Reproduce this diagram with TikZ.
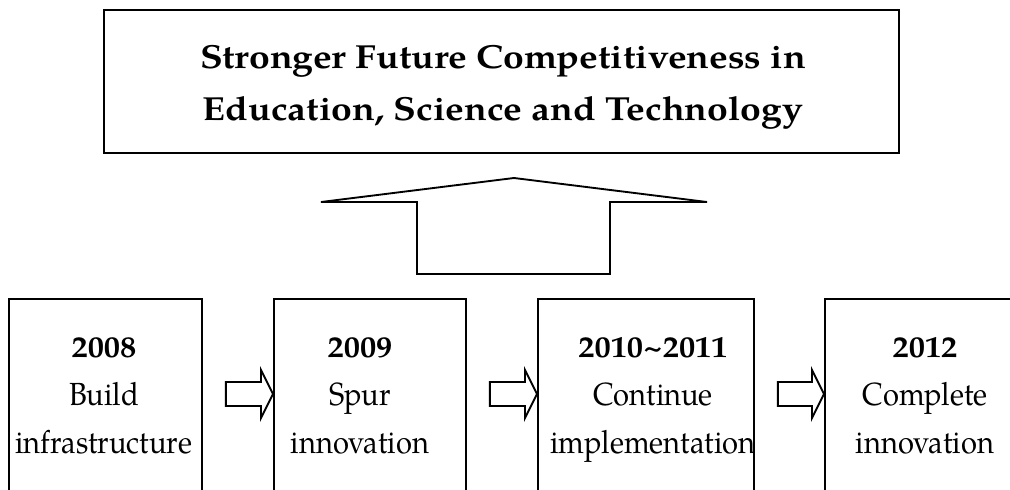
\documentclass[tikz,border=0pt]{standalone}
\usepackage{fontspec}
\setmainfont{TeX Gyre Pagella}
\newfontfamily\largo{TeX Gyre Pagella}[FakeStretch=1.12]
\newfontfamily\medio{TeX Gyre Pagella}[FakeStretch=1.08]
\newfontfamily\stretto{TeX Gyre Pagella}[FakeStretch=0.91]
\usetikzlibrary{positioning, calc}

\newcommand{\passo}[2]{%
    \path (#1.north east) ++(23,96) coordinate (s-#1);
    \path (#2.north west) ++(0,96) coordinate (p-#2);
    \draw[freccia] ($(s-#1)+(0,-12)$) -- ($(p-#2)+(-12,-12)$) -- ($(p-#2)+(-12,-24)$)
        -- (p-#2) -- ($(p-#2)+(-12,24)$) -- ($(p-#2)+(-12,12)$) -- ($(s-#1)+(0,12)$) -- cycle;
}
\newcommand{\anno}[1]{{\medio\bfseries\fontsize{22.5}{36}\selectfont #1}}

\begin{document}
\begin{tikzpicture}[x=0.75pt, y=-0.75pt, line width=1.4pt,
    casella/.style={draw, rectangle, line join=miter, inner sep=0pt},
    freccia/.style={line join=miter},
    testo/.style={align=center, anchor=base, inner sep=0pt,
        font=\stretto\fontsize{24}{36}\selectfont}]
    % Parametri
    \pgfmathsetmacro{\px}{0.75}
    \pgfmathsetmacro{\ytop}{298}
    \pgfmathsetmacro{\alt}{210}
    % Cornice
    \useasboundingbox (0,0) rectangle (1010,489);
    \clip (0,0) rectangle (1010,489);

    % Obiettivo
    \node[casella, minimum width={795*\px pt}, minimum height={143*\px pt}]
        (meta) at (501.5,81.5) {};
    \node[align=center, anchor=base, inner sep=0pt,
        font=\largo\bfseries\fontsize{25}{39}\selectfont]
        (titolo) at (503,120) {Stronger Future Competitiveness in\\Education, Science and Technology};
    % Freccia grande
    \draw[freccia] (417,274) -- (417,202) -- (321,202) -- (514,178)
        -- (707,202) -- (610,202) -- (610,274) -- cycle;

    % Caselle
    \node[casella, anchor=north west, minimum width={193*\px pt}, minimum height={\alt*\px pt}] (b1) at (8,\ytop) {};
    \node[casella, anchor=north west, minimum width={192*\px pt}, minimum height={\alt*\px pt}] (b2) at (273,\ytop) {};
    \node[casella, anchor=north west, minimum width={216*\px pt}, minimum height={\alt*\px pt}] (b3) at (537,\ytop) {};
    \node[casella, anchor=north west, minimum width={210*\px pt}, minimum height={\alt*\px pt}] (b4) at (824,\ytop) {};

    % Testi
    \node[testo] (t1) at (104,453) {\anno{2008}\\Build\\infrastructure};
    \node[testo] (t2) at (360,453) {\anno{2009}\\Spur\\innovation};
    \node[testo] (t3) at (653,453) {\anno{2010\textasciitilde 2011}\\Continue\\implementation};
    \node[testo] (t4) at (925,453) {\anno{2012}\\Complete\\innovation};

    % Frecce piccole
    \passo{b1}{b2}
    \passo{b2}{b3}
    \passo{b3}{b4}
\end{tikzpicture}
\end{document}
